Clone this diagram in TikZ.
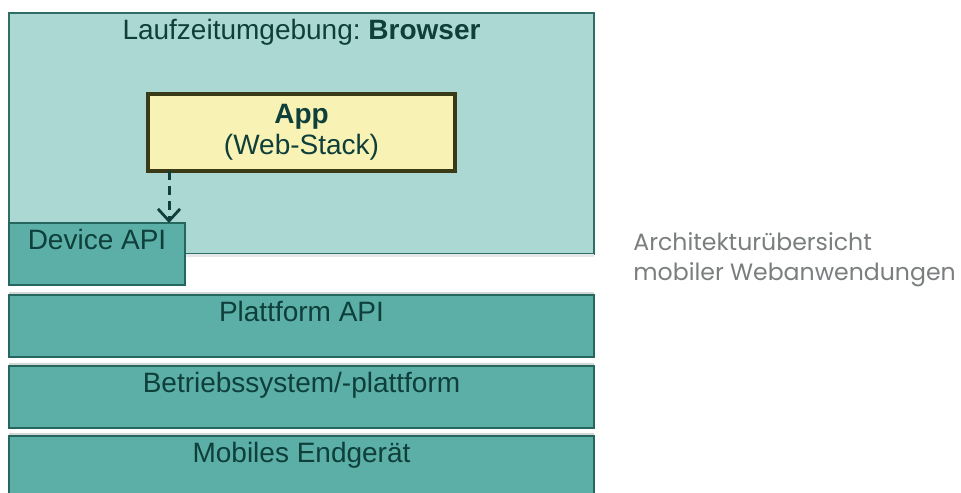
\documentclass[tikz,border=0pt]{standalone}
\usepackage{fontspec}
\setmainfont{Liberation Sans}
\newfontfamily\captionfont{Poppins}
\usetikzlibrary{arrows.meta,calc}
\frenchspacing

\definecolor{browserfill}{HTML}{ACD8D4}
\definecolor{browserline}{HTML}{2F6E67}
\definecolor{layerfill}{HTML}{5BAFA6}
\definecolor{layerline}{HTML}{25665F}
\definecolor{appfill}{HTML}{F8F2B4}
\definecolor{appline}{HTML}{3B3A16}
\definecolor{labeltext}{HTML}{0E3F3A}
\definecolor{captiontext}{HTML}{7A7E7E}
\definecolor{shadowgray}{HTML}{D2D7D6}

\tikzset{
  box/.style={rectangle, inner sep=0pt, outer sep=0pt},
  browserbox/.style={box, fill=browserfill, draw=browserline, line width=0.9pt},
  layerbox/.style={box, fill=layerfill, draw=layerline, line width=0.9pt},
  appbox/.style={box, fill=appfill, draw=appline, line width=1.7pt},
  boxlabel/.style={inner sep=0pt, text=labeltext, font=\fontsize{14}{16}\selectfont},
  apilink/.style={draw=labeltext, line width=1.5pt, dash pattern=on 4.5pt off 3pt,
    -{Straight Barb[length=6pt,width=11pt,line width=1.4pt]}},
  captiontxt/.style={inner sep=0pt, text=captiontext, align=left,
    font=\captionfont\fontsize{11.8}{15}\selectfont}
}

\begin{document}
\begin{tikzpicture}[x=0.5pt,y=-0.5pt]
  \useasboundingbox (0,0) rectangle (961,492);
  \clip (0,0) rectangle (961,492);

  % runtime environment
  \node[browserbox, minimum width=292.5pt, minimum height=120.5pt] (browser) at (301.5,133.5) {};
  \node[boxlabel, anchor=base] (browsertitle) at (301.5,40) {Laufzeitumgebung: \textbf{Browser}};

  % the web application
  \node[appbox, minimum width=153.5pt, minimum height=38.5pt] (app) at (301.5,132.5) {};
  \node[boxlabel, anchor=base] (appname) at (301.5,123) {\textbf{App}};
  \node[boxlabel, anchor=base] (appstack) at (301.5,154) {(Web-Stack)};

  % soft shadows above the lower layers
  \fill[shadowgray] (9,292) rectangle (594,295);
  \fill[shadowgray] (9,363) rectangle (594,366);
  \fill[shadowgray] (9,433) rectangle (594,436);
  \fill[shadowgray!60] (185,254) rectangle (594,257);

  % device API and platform layers
  \node[layerbox, minimum width=88pt, minimum height=31pt] (device) at (97,254) {};
  \node[boxlabel, anchor=base] (devicetxt) at (97,249) {Device API};

  \node[layerbox, minimum width=292.5pt, minimum height=31pt] (platform) at (301.5,326) {};
  \node[boxlabel, anchor=base] (platformtxt) at (301.5,321) {Plattform API};

  \node[layerbox, minimum width=292.5pt, minimum height=31pt] (os) at (301.5,397) {};
  \node[boxlabel, anchor=base] (ostxt) at (301.5,392) {Betriebssystem/-plattform};

  \node[layerbox, minimum width=292.5pt, minimum height=31pt] (device2) at (301.5,467) {};
  \node[boxlabel, anchor=base] (device2txt) at (301.5,462) {Mobiles Endgerät};

  % app uses the device API
  \coordinate (linkstart) at ($(app.south west)+(21,0)$);
  \draw[apilink] (linkstart) -- (linkstart |- device.north);

  % caption
  \node[captiontxt, anchor=base west] (caption) at (633,250)
    {Architekturübersicht};
  \node[captiontxt, anchor=base west] (caption2) at (633,280)
    {mobiler Webanwendungen};
\end{tikzpicture}
\end{document}
